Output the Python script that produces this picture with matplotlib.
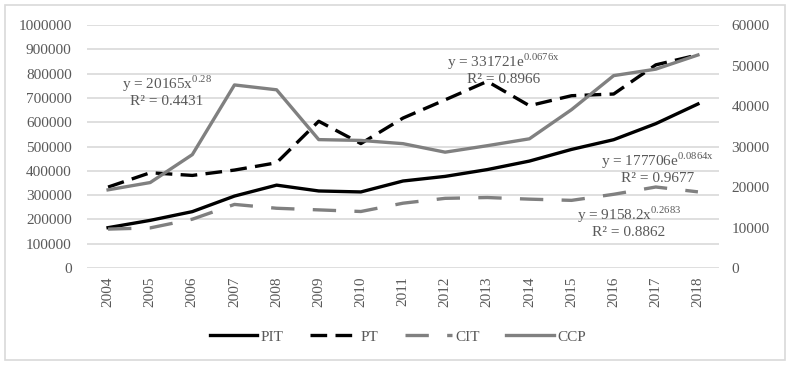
import matplotlib
matplotlib.use("Agg")
import matplotlib.pyplot as plt
from matplotlib.patches import Rectangle
from matplotlib.ticker import FuncFormatter
import numpy as np

plt.rcParams['font.family'] = ['Liberation Serif', 'DejaVu Serif']
plt.rcParams['mathtext.fontset'] = 'custom'
plt.rcParams['mathtext.rm'] = 'Liberation Serif'

years = [str(y) for y in range(2004, 2019)]
# left axis
pit = [166000, 196000, 232000, 296000, 341000, 317000, 313000, 358000,
       377000, 405000, 440000, 488000, 528000, 594000, 675000]
pt = [333000, 392000, 381000, 403000, 433000, 604000, 512000, 617000,
      692000, 768000, 668000, 709000, 716000, 836000, 877000]
# right axis
cit = [9600, 9900, 12050, 15700, 14750, 14350, 13950, 16000,
       17200, 17400, 17000, 16700, 18200, 20000, 18800]
ccp = [19300, 21100, 28000, 45200, 44000, 31700, 31500, 30700,
       28600, 30200, 31900, 39100, 47500, 49100, 52600]

txt = '#595959'
grid = '#d9d9d9'
gray = '#808080'

fig = plt.figure(figsize=(7.96, 3.70), dpi=100)
fig.patches.append(Rectangle((5/796, 10/370), 780/796, 355/370, transform=fig.transFigure,
                             fill=False, edgecolor=grid, linewidth=1.2))
ax = fig.add_axes([87/796, 1 - 268/370, 632/796, 243/370])
ax2 = ax.twinx()

x = np.arange(len(years))
l1, = ax.plot(x, pit, color='black', lw=2.4, label='PIT')
l2, = ax.plot(x, pt, color='black', lw=2.4, dashes=(5, 2.5), label='PT')
l3, = ax2.plot(x, cit, color=gray, lw=2.4, dashes=(7, 5.5), label='CIT')
l4, = ax2.plot(x, ccp, color=gray, lw=2.4, label='CCP')

ax.set_xlim(-0.5, len(years) - 0.5)
ax.set_ylim(0, 1000000)
ax2.set_ylim(0, 60000)
ax.set_yticks(np.arange(0, 1000001, 100000))
ax2.set_yticks(np.arange(0, 60001, 10000))
plain = FuncFormatter(lambda v, p: '%d' % v)
ax.yaxis.set_major_formatter(plain)
ax2.yaxis.set_major_formatter(plain)
ax.yaxis.grid(True, color=grid, lw=1.2)
ax.set_axisbelow(True)
ax.set_xticks(x)
ax.set_xticklabels(years, rotation=90)

for a in (ax, ax2):
    for s in a.spines.values():
        s.set_visible(False)
    a.tick_params(length=0, labelsize=11, labelcolor=txt)
ax.tick_params(axis='y', pad=11)
ax2.tick_params(axis='y', pad=9)
ax.tick_params(axis='x', pad=6)

fs = 11
dy = 72000
notes = [
    (1.39, 757000, r'y = 20165x$^{\mathrm{0.28}}$', 'R² = 0.4431'),
    (9.39, 847000, r'y = 331721e$^{\mathrm{0.0676x}}$', 'R² = 0.8966'),
    (13.04, 441000, r'y = 177706e$^{\mathrm{0.0864x}}$', 'R² = 0.9677'),
    (12.36, 218000, r'y = 9158.2x$^{\mathrm{0.2683}}$', 'R² = 0.8862'),
]
for nx, ny, eq, r2 in notes:
    ax.text(nx, ny, eq, ha='center', va='center', fontsize=fs, color=txt)
    ax.text(nx, ny - dy, r2, ha='center', va='center', fontsize=fs, color=txt)

leg = fig.legend(handles=[l1, l2, l3, l4], loc='center', bbox_to_anchor=(0.5, 0.09),
                 ncol=4, frameon=False, fontsize=11, handlelength=3.1, columnspacing=1.7,
                 handletextpad=0.25)
for t in leg.get_texts():
    t.set_color(txt)

fig.savefig('out.png', dpi=100)
